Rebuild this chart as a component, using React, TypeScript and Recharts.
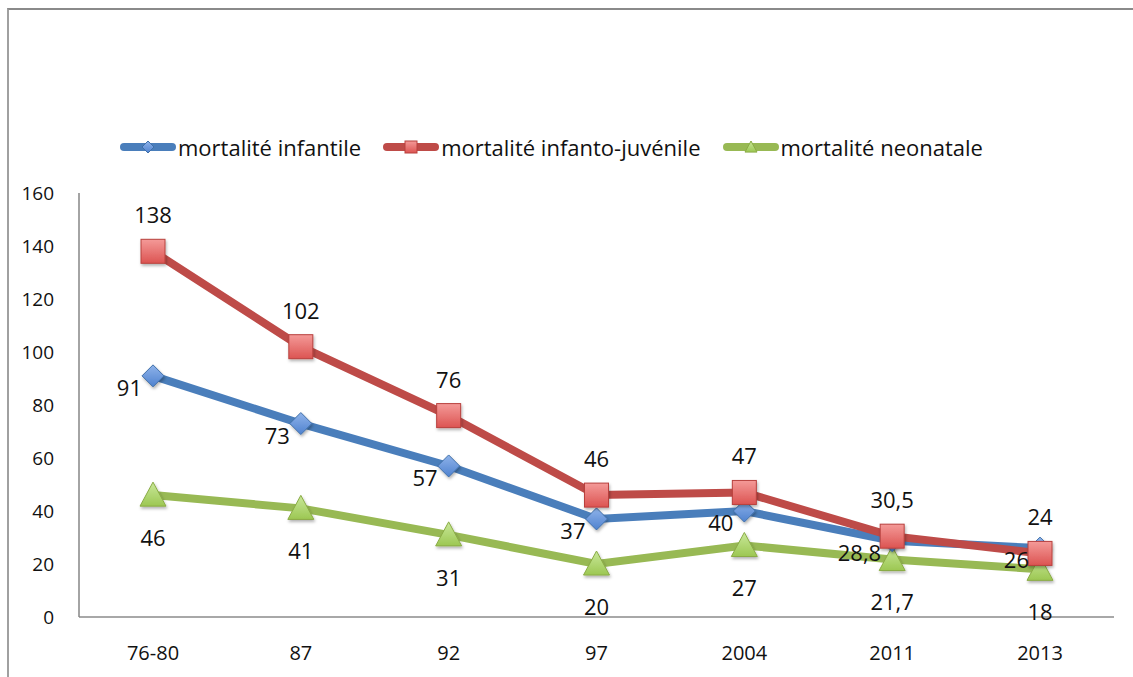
import { LineChart, Line, XAxis, YAxis, LabelList } from 'recharts'

const years = ['76-80', '87', '92', '97', '2004', '2011', '2013']
const infantile = [91, 73, 57, 37, 40, 28.8, 26]
const infantoJuvenile = [138, 102, 76, 46, 47, 30.5, 24]
const neonatale = [46, 41, 31, 20, 27, 21.7, 18]
const yTicks = [0, 20, 40, 60, 80, 100, 120, 140, 160]

const data = years.map((year, i) => ({
  year,
  infantile: infantile[i],
  juvenile: infantoJuvenile[i],
  neonatale: neonatale[i],
}))

const FONT = '"Open Sans", Lato, sans-serif'
const TEXT = '#111'
const BLUE = '#4a7ebb'
const RED = '#be4b48'
const GREEN = '#98b954'

const fmt = (v: unknown) => String(v).replace('.', ',')

function Diamond({ cx, cy, s = 11 }: { cx: number; cy: number; s?: number }) {
  return (
    <path
      d={`M${cx},${cy - s} L${cx + s},${cy} L${cx},${cy + s} L${cx - s},${cy} Z`}
      fill="url(#gBlue)"
      stroke="#3f6fa8"
      strokeWidth={1}
    />
  )
}

function Square({ cx, cy, s = 12 }: { cx: number; cy: number; s?: number }) {
  return (
    <rect x={cx - s} y={cy - s} width={s * 2} height={s * 2} fill="url(#gRed)" stroke="#b8403d" strokeWidth={1} />
  )
}

function Triangle({ cx, cy, s = 13 }: { cx: number; cy: number; s?: number }) {
  return (
    <path
      d={`M${cx},${cy - s} L${cx + s},${cy + s * 0.85} L${cx - s},${cy + s * 0.85} Z`}
      fill="url(#gGreen)"
      stroke="#8aab45"
      strokeWidth={1}
    />
  )
}

const dotOf = (Shape: typeof Diamond) => (p: any) =>
  p.cx == null ? <g key={p.index} /> : <g key={p.index} filter="url(#shadow)"><Shape cx={p.cx} cy={p.cy} /></g>

const labelStyle = { fontFamily: FONT, fontSize: 22, fill: TEXT }

const blueLabel = (p: any) => (
  <text x={p.x - 11} y={p.y + 11} textAnchor="end" dominantBaseline="central" style={labelStyle}>
    {fmt(p.value)}
  </text>
)
const redLabel = (p: any) => (
  <text x={p.x} y={p.y - 37} textAnchor="middle" dominantBaseline="central" style={labelStyle}>
    {fmt(p.value)}
  </text>
)
const greenLabel = (p: any) => (
  <text x={p.x} y={p.y + 42} textAnchor="middle" dominantBaseline="central" style={labelStyle}>
    {fmt(p.value)}
  </text>
)

const legendItems = [
  { label: 'mortalité infantile', color: BLUE, Shape: Diamond },
  { label: 'mortalité infanto-juvénile', color: RED, Shape: Square },
  { label: 'mortalité neonatale', color: GREEN, Shape: Triangle },
]

function LegendBar() {
  return (
    <div
      style={{
        position: 'absolute',
        top: 134,
        left: 120,
        display: 'flex',
        alignItems: 'center',
        gap: 22,
        fontFamily: FONT,
        fontSize: 22,
        color: TEXT,
        lineHeight: '26px',
      }}
    >
      {legendItems.map(({ label, color, Shape }) => (
        <div key={label} style={{ display: 'flex', alignItems: 'center' }}>
          <svg width={56} height={26} style={{ marginRight: 2 }}>
            <line x1={4} y1={13} x2={52} y2={13} stroke={color} strokeWidth={8} strokeLinecap="round" />
            <Shape cx={28} cy={13} s={6} />
          </svg>
          <span>{label}</span>
        </div>
      ))}
    </div>
  )
}

export default function App() {
  return (
    <div style={{ position: 'absolute', top: 0, left: 0, width: 1133, height: 677, background: '#fff', overflow: 'hidden' }}>
      <div
        style={{
          position: 'absolute',
          top: 8,
          left: 7,
          width: 1140,
          height: 690,
          borderTop: '2px solid #8a8a8a',
          borderLeft: '2px solid #a0a0a0',
        }}
      />
      <LegendBar />
      <div style={{ position: 'absolute', top: 0, left: 0 }}>
        <LineChart width={1133} height={677} data={data} margin={{ top: 193, right: 19, left: 0, bottom: 0 }}>
          <defs>
            <linearGradient id="gBlue" x1="0" y1="0" x2="0" y2="1">
              <stop offset="0%" stopColor="#8fb3ea" />
              <stop offset="100%" stopColor="#4f82cf" />
            </linearGradient>
            <linearGradient id="gRed" x1="0" y1="0" x2="0" y2="1">
              <stop offset="0%" stopColor="#f49a98" />
              <stop offset="100%" stopColor="#dc5452" />
            </linearGradient>
            <linearGradient id="gGreen" x1="0" y1="0" x2="0" y2="1">
              <stop offset="0%" stopColor="#c9e89a" />
              <stop offset="100%" stopColor="#9cc752" />
            </linearGradient>
            <filter id="shadow" x="-50%" y="-50%" width="200%" height="200%">
              <feDropShadow dx="1" dy="2" stdDeviation="1.5" floodColor="#000" floodOpacity="0.3" />
            </filter>
          </defs>
          <XAxis
            dataKey="year"
            height={60}
            padding={{ left: 74, right: 74 }}
            tickLine={false}
            tickSize={0}
            tickMargin={29}
            axisLine={{ stroke: '#a8a8a8', strokeWidth: 2 }}
            tick={{ fontFamily: FONT, fontSize: 20, fill: TEXT }}
          />
          <YAxis
            width={79}
            domain={[0, 160]}
            ticks={yTicks}
            tickLine={false}
            tickSize={0}
            tickMargin={25}
            axisLine={{ stroke: '#868686', strokeWidth: 1.5 }}
            tick={{ fontFamily: FONT, fontSize: 19, fill: TEXT }}
          />
          <Line
            dataKey="neonatale"
            stroke={GREEN}
            strokeWidth={8}
            dot={dotOf(Triangle)}
            activeDot={false}
            isAnimationActive={false}
          >
            <LabelList dataKey="neonatale" content={greenLabel} />
          </Line>
          <Line
            dataKey="infantile"
            stroke={BLUE}
            strokeWidth={8}
            dot={dotOf(Diamond)}
            activeDot={false}
            isAnimationActive={false}
          >
            <LabelList dataKey="infantile" content={blueLabel} />
          </Line>
          <Line
            dataKey="juvenile"
            stroke={RED}
            strokeWidth={8}
            dot={dotOf(Square)}
            activeDot={false}
            isAnimationActive={false}
          >
            <LabelList dataKey="juvenile" content={redLabel} />
          </Line>
        </LineChart>
      </div>
    </div>
  )
}
